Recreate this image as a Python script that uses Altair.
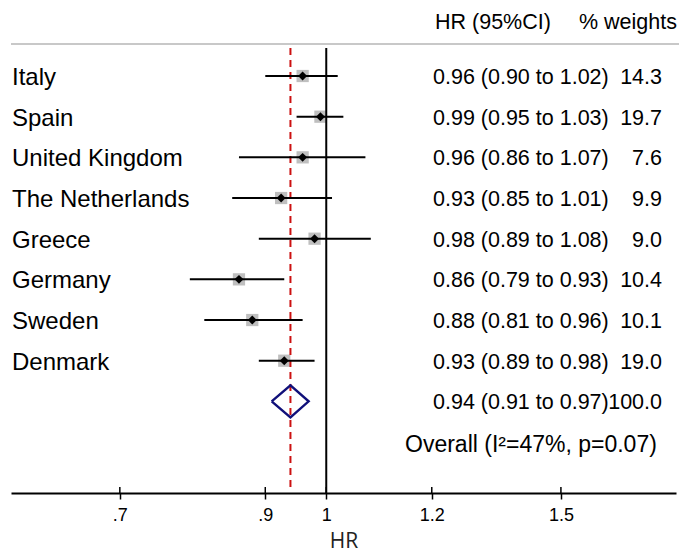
import altair as alt
import pandas as pd

countries = ["Italy", "Spain", "United Kingdom", "The Netherlands", "Greece",
             "Germany", "Sweden", "Denmark"]
hr = [0.96, 0.99, 0.96, 0.925, 0.98, 0.86, 0.88, 0.93]
lo = [0.90, 0.95, 0.86, 0.85, 0.89, 0.79, 0.81, 0.89]
hi = [1.02, 1.03, 1.07, 1.01, 1.08, 0.93, 0.96, 0.98]
weights = [14.3, 19.7, 7.6, 9.9, 9.0, 10.4, 10.1, 19.0]

overall_hr = 0.94
overall_lo = 0.91
overall_hi = 0.97
overall_w = 100.0
overall_label = "Overall (I\u00b2=47%, p=0.07)"

headers = ["HR (95%CI)", "% weights"]
tick_values = [0.7, 0.9, 1.0, 1.2, 1.5]

FONT = "Liberation Sans"

df = pd.DataFrame({
    "country": countries, "hr": hr, "lo": lo, "hi": hi, "w": weights,
    "row": list(range(len(countries))),
})
df["ci"] = [f"{a:.2f} ({b:.2f} to {c:.2f})" for a, b, c in zip(hr, lo, hi)]
df["wt"] = [f"{v:.1f}" for v in weights]

orow = len(countries)
odf = pd.DataFrame({
    "row": [orow],
    "ci": [f"{overall_hr:.2f} ({overall_lo:.2f} to {overall_hi:.2f})"],
    "wt": [f"{overall_w:.1f}"],
})
olab = pd.DataFrame({"row": [orow + 1], "t": [overall_label]})

hh = 0.393
dia = pd.DataFrame({
    "x": [overall_lo, overall_hr, overall_hi, overall_hr, overall_lo],
    "y": [orow, orow - hh, orow, orow + hh, orow],
    "o": [0, 1, 2, 3, 4],
})

xs = alt.Scale(type="log", domain=[0.58, 1.83], nice=False)
ys = alt.Scale(domain=[-0.787, 10.253], reverse=True, nice=False, zero=False)

base = alt.Chart(df)

axis = alt.Axis(values=tick_values, format="~g",
                labelExpr="datum.value < 1 ? substring(datum.label, 1) : datum.label",
                grid=False, domain=True, domainColor="black", domainWidth=2,
                tickSize=6, tickWidth=1.5,
                tickColor="black", labelFont=FONT, labelFontSize=18,
                labelColor="black", labelPadding=7, title="HR",
                titleFont="Open Sans", titleFontSize=21, titleFontWeight="normal",
                titleColor="#222222", titlePadding=6)

yenc = alt.Y("row:Q", scale=ys, axis=None)

squares = base.mark_square(color="#bfbfbf", size=150, opacity=1).encode(
    x=alt.X("hr:Q", scale=xs, axis=axis), y=yenc)
ci = base.mark_rule(color="black", strokeWidth=2).encode(
    x=alt.X("lo:Q", scale=xs), x2="hi:Q", y=yenc)
pts = base.mark_point(shape="diamond", filled=True, color="black", size=80,
                      opacity=1).encode(x=alt.X("hr:Q", scale=xs), y=yenc)

tstub = alt.Chart(pd.DataFrame({"t": tick_values})).mark_rule(
    color="black", strokeWidth=1.5).encode(
    x=alt.X("t:Q", scale=xs), y=alt.value(443), y2=alt.value(449))

null_line = alt.Chart(pd.DataFrame({"v": [1.0]})).mark_rule(
    color="black", strokeWidth=2).encode(
    x=alt.X("v:Q", scale=xs), y=alt.value(4), y2=alt.value(449))
ov_line = alt.Chart(pd.DataFrame({"v": [overall_hr]})).mark_rule(
    color="#cc1111", strokeWidth=2, strokeDash=[7, 5]).encode(
    x=alt.X("v:Q", scale=xs), y=alt.value(4), y2=alt.value(445))

diamond = alt.Chart(dia).mark_line(color="#10107a", strokeWidth=2.4).encode(
    x=alt.X("x:Q", scale=xs), y=alt.Y("y:Q", scale=ys, axis=None), order="o:Q")

topline = alt.Chart(pd.DataFrame({"v": [0]})).mark_rule(
    color="#c8c8c8", strokeWidth=2).encode(
    x=alt.value(0), x2=alt.value(668), y=alt.value(0))

labels = base.mark_text(align="left", baseline="middle", font=FONT, fontSize=24,
                        dy=2, color="black").encode(x=alt.value(1), y=yenc, text="country:N")
cit = base.mark_text(align="left", baseline="middle", font=FONT, fontSize=21.5,
                     dy=2, color="black").encode(x=alt.value(422), y=yenc, text="ci:N")
wtt = base.mark_text(align="right", baseline="middle", font=FONT, fontSize=21.5,
                     dy=2, color="black").encode(x=alt.value(651), y=yenc, text="wt:N")

ocit = alt.Chart(odf).mark_text(
    align="left", baseline="middle", font=FONT, fontSize=21.5, dy=2, color="black").encode(
    x=alt.value(422), y=alt.Y("row:Q", scale=ys, axis=None), text="ci:N")
owt = alt.Chart(odf).mark_text(
    align="right", baseline="middle", font=FONT, fontSize=21.5, dy=2, color="black").encode(
    x=alt.value(651), y=alt.Y("row:Q", scale=ys, axis=None), text="wt:N")
olabel = alt.Chart(olab).mark_text(
    align="left", baseline="middle", font=FONT, fontSize=23, dy=3, color="black").encode(
    x=alt.value(394), y=alt.Y("row:Q", scale=ys, axis=None), text="t:N")

h1 = alt.Chart(pd.DataFrame({"t": [headers[0]]})).mark_text(
    align="left", baseline="middle", font=FONT, fontSize=21.5, color="black").encode(
    x=alt.value(424), y=alt.value(-21), text="t:N")
h2 = alt.Chart(pd.DataFrame({"t": [headers[1]]})).mark_text(
    align="right", baseline="middle", font=FONT, fontSize=21.5, color="black").encode(
    x=alt.value(666), y=alt.value(-21), text="t:N")

chart = alt.layer(
    squares, ov_line, null_line, ci, pts, diamond, tstub, topline,
    labels, cit, wtt, ocit, owt, olabel, h1, h2
).properties(
    width=665, height=449,
    padding={"left": 11, "top": 44, "right": 3, "bottom": 60},
    autosize=alt.AutoSizeParams(type="none"),
    background="white",
).configure_view(strokeWidth=0)

chart.save("out.html", embed_options={"renderer": "svg", "actions": False})
